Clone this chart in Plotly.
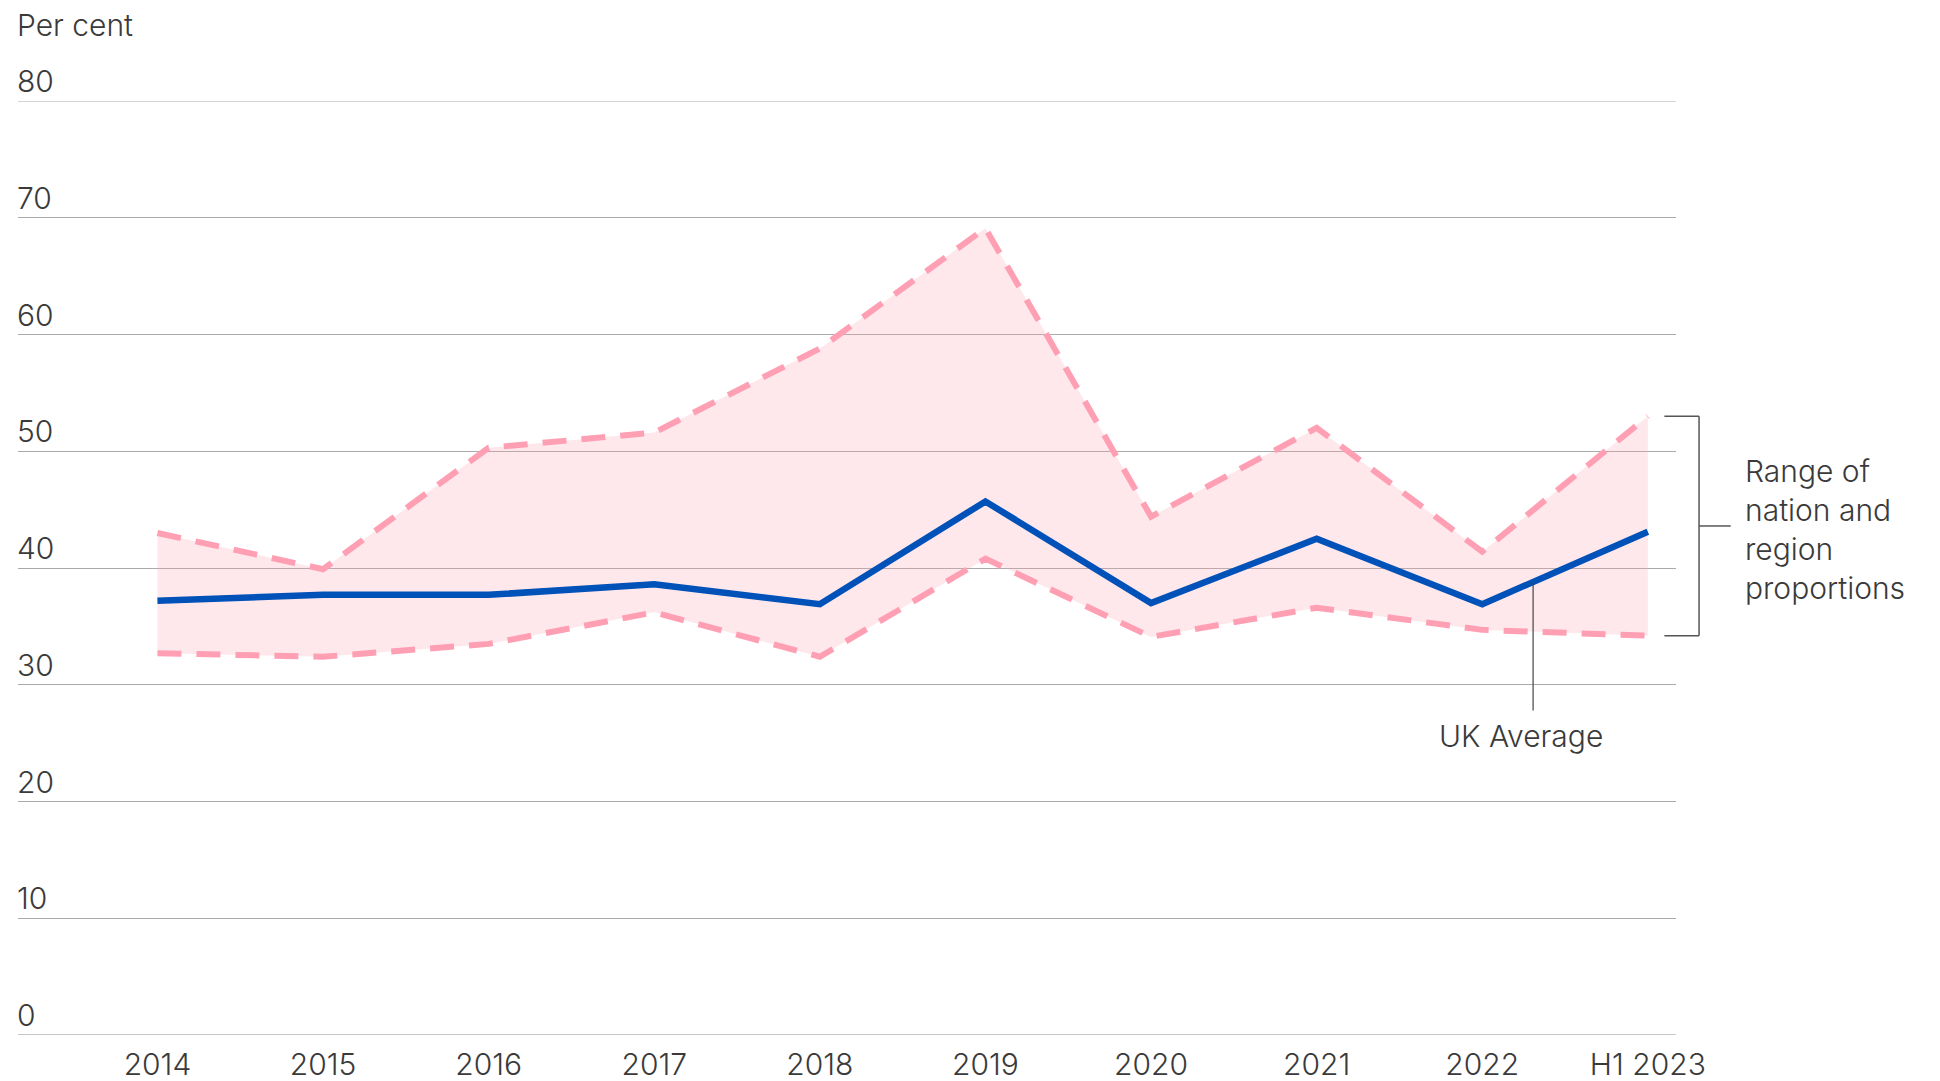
import plotly.graph_objects as go

categories = ["2014", "2015", "2016", "2017", "2018", "2019", "2020", "2021", "2022", "H1 2023"]
uk_average = [37.2, 37.7, 37.7, 38.6, 36.9, 45.7, 37.0, 42.5, 36.9, 43.1]
range_upper = [43.0, 39.9, 50.3, 51.6, 58.8, 69.1, 44.4, 52.0, 41.4, 53.0]
range_lower = [32.7, 32.4, 33.5, 36.2, 32.4, 40.8, 34.1, 36.6, 34.7, 34.2]
y_ticks = [0, 10, 20, 30, 40, 50, 60, 70, 80]

FONT = "Inter"
FS = 30
TXT = "#3a3a3a"
PINK = "#ff9fb3"
BLUE = "#0051b8"
GRID = "#aaaaaa"

fig = go.Figure()
fig.add_trace(go.Scatter(x=categories, y=range_lower, mode="lines",
                         line=dict(color=PINK, width=6, dash="24px,15px"),
                         hoverinfo="skip", showlegend=False))
fig.add_trace(go.Scatter(x=categories, y=range_upper, mode="lines",
                         line=dict(color=PINK, width=6, dash="24px,15px"),
                         fill="tonexty", fillcolor="rgba(255,163,179,0.25)",
                         hoverinfo="skip", showlegend=False))
fig.add_trace(go.Scatter(x=categories, y=uk_average, mode="lines",
                         line=dict(color=BLUE, width=6.5),
                         showlegend=False))

annotations = []
for v in y_ticks:
    annotations.append(dict(x=0, xref="paper", y=v, yref="y", text=str(v),
                            showarrow=False, xanchor="left", yanchor="middle",
                            yshift=20, xshift=-3,
                            font=dict(family=FONT, size=FS, color=TXT, weight=300)))
annotations.append(dict(x=0, xref="paper", y=80, yref="y", text="Per cent",
                        showarrow=False, xanchor="left", yanchor="middle",
                        yshift=76, xshift=-3,
                        font=dict(family=FONT, size=FS, color=TXT, weight=300)))

# Bracket for range at last point
top = range_upper[-1]
bot = range_lower[-1]
mid = (top + bot) / 2
bx0, bx1, bx2 = 0.993, 1.0139, 1.033
shapes = [
    dict(type="line", xref="paper", yref="y", x0=0, x1=1, y0=y_ticks[-1], y1=y_ticks[-1],
         line=dict(color=GRID, width=1.2), layer="below"),
    dict(type="line", xref="paper", yref="y", x0=bx0, x1=bx1, y0=top, y1=top,
         line=dict(color="#555", width=1.5)),
    dict(type="line", xref="paper", yref="y", x0=bx1, x1=bx1, y0=top, y1=bot,
         line=dict(color="#555", width=1.5)),
    dict(type="line", xref="paper", yref="y", x0=bx0, x1=bx1, y0=bot, y1=bot,
         line=dict(color="#555", width=1.5)),
    dict(type="line", xref="paper", yref="y", x0=bx1, x1=bx2, y0=mid, y1=mid,
         line=dict(color="#555", width=1.5)),
    dict(type="line", xref="paper", yref="y", x0=0, x1=1, y0=y_ticks[0], y1=y_ticks[0],
         line=dict(color="#c8c8c8", width=2), layer="below"),
]
annotations.append(dict(x=1.0416, xref="paper", y=mid, yref="y",
                        text="Range of<br>nation and<br>region<br>proportions",
                        showarrow=False, xanchor="left", yanchor="middle", align="left",
                        yshift=-4, xshift=-2,
                        font=dict(family=FONT, size=FS, color=TXT, weight=300)))

# UK Average callout
cx = 8.307
i0 = int(cx)
frac = cx - i0
y_on_line = uk_average[i0] + frac * (uk_average[i0 + 1] - uk_average[i0])
shapes.append(dict(type="line", xref="x", yref="y", x0=cx, x1=cx, y0=y_on_line, y1=27.8,
                   line=dict(color="#444", width=1.2), layer="above"))
annotations.append(dict(x=cx, xref="x", y=27.8, yref="y", text="UK Average",
                        showarrow=False, xanchor="center", yanchor="top", xshift=-12, yshift=-6,
                        font=dict(family=FONT, size=FS, color=TXT, weight=300)))

fig.update_layout(
    width=1932, height=1073,
    margin=dict(l=10, r=264, t=93, b=46, autoexpand=False),
    paper_bgcolor="white", plot_bgcolor="white",
    font=dict(family=FONT, size=FS, color=TXT),
    shapes=shapes, annotations=annotations,
    xaxis=dict(type="category", range=[-0.842, 9.170], showgrid=False, zeroline=False,
               showline=False, ticks="", automargin=False,
               tickfont=dict(family=FONT, size=FS, color=TXT, weight=300),
               ticklabelstandoff=9),
    yaxis=dict(range=[0, 80], tickvals=y_ticks, showticklabels=False, showgrid=True,
               automargin=False,
               gridcolor=GRID, gridwidth=1.2, zeroline=False, showline=False, ticks=""),
)

fig.write_html("out.html")
